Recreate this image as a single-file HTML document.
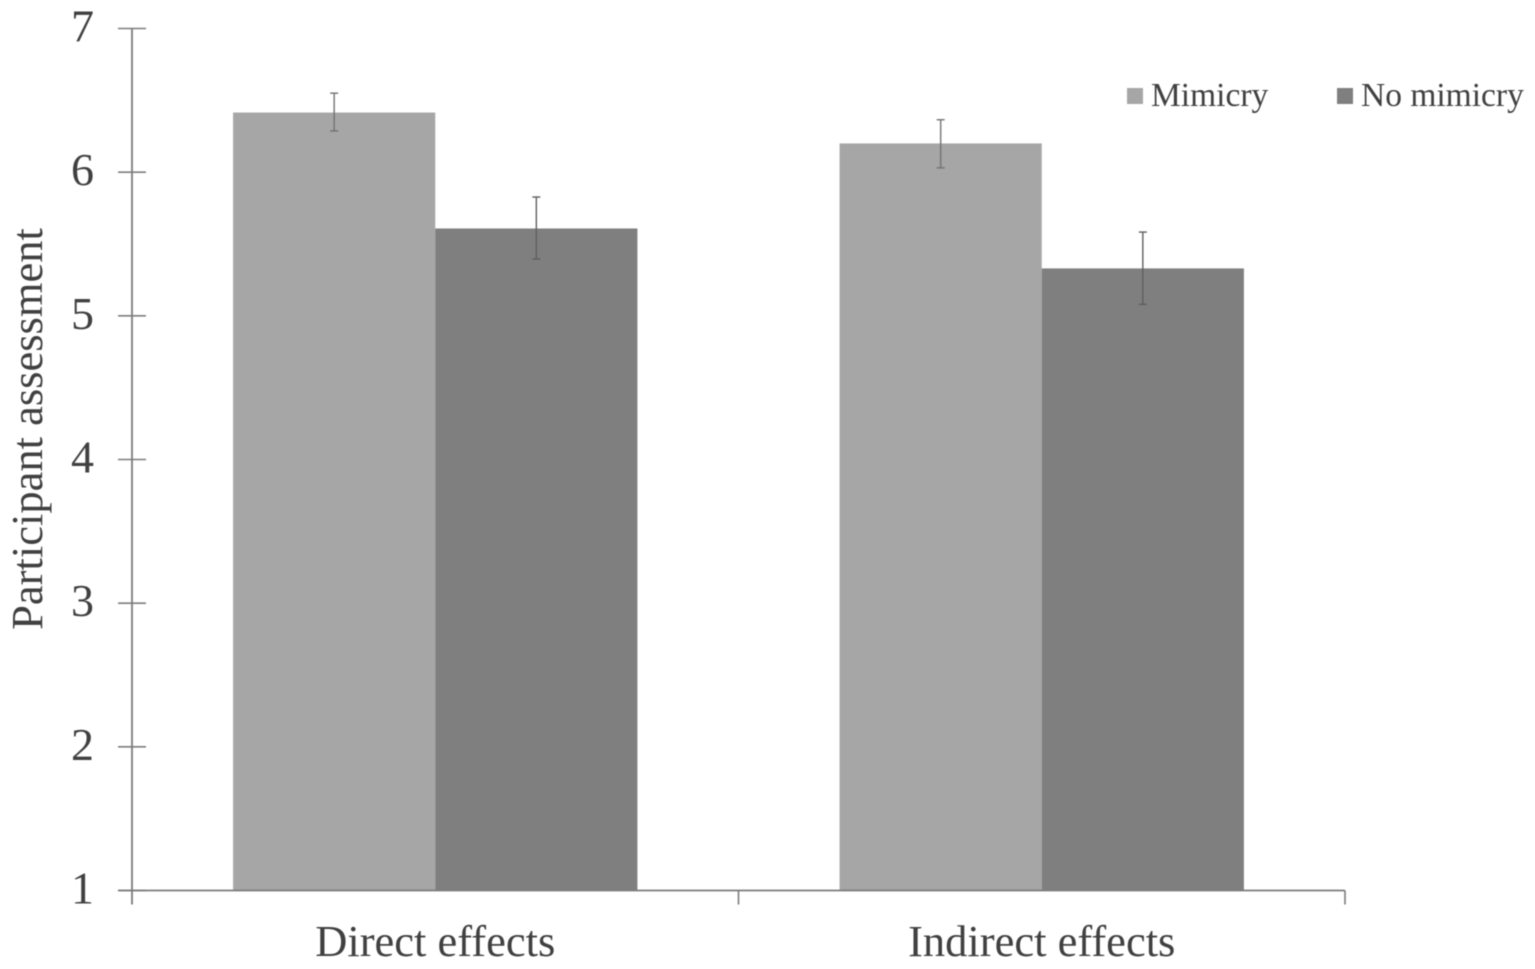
<!DOCTYPE html>
<html lang="en">
<head>
<meta charset="utf-8">
<title>Participant assessment chart</title>
<style>
html,body{margin:0;padding:0;background:#fff;width:1535px;height:969px;overflow:hidden}
svg{display:block;filter:blur(.45px)}
text{font-family:"Liberation Serif",serif;fill:#404040}
</style>
</head>
<body>
<svg id="chart" xmlns="http://www.w3.org/2000/svg" width="1535" height="969" viewBox="0 0 1535 969">
<g id="bars"></g>
<g id="errors"></g>
<g id="axes"></g>
<text transform="translate(42,429) rotate(-90)" text-anchor="middle" font-size="44.5">Participant assessment</text>
<g>
<g>
<rect x="1127" y="88" width="16" height="16" fill="#a6a6a6"/>
<text x="1151" y="106" font-size="33.5">Mimicry</text>
</g>
<g>
<rect x="1337" y="88" width="16" height="16" fill="#7f7f7f"/>
<text x="1361" y="106" font-size="33.5">No mimicry</text>
</g>
</g>
</svg>
<script>
const categories = ['Direct effects', 'Indirect effects'];
const seriesNames = ['Mimicry', 'No mimicry'];
const mimicryValues = [6.415, 6.2];
const noMimicryValues = [5.608, 5.33];
const mimicryErrorLow = [6.287, 6.03];
const mimicryErrorHigh = [6.55, 6.365];
const noMimicryErrorLow = [5.396, 5.08];
const noMimicryErrorHigh = [5.827, 5.583];
const yTicks = [1, 2, 3, 4, 5, 6, 7];

const NS = 'http://www.w3.org/2000/svg';
const yTop = 28.5, yBottom = 890.5, xLeft = 132, xRight = 1345;
const yMin = yTicks[0], yMax = yTicks[yTicks.length - 1];
const yScale = v => yBottom - (v - yMin) / (yMax - yMin) * (yBottom - yTop);
const groupWidth = (xRight - xLeft) / categories.length;
const barWidth = groupWidth / 3;
const barX = (c, s) => xLeft + groupWidth * c + barWidth / 2 + barWidth * s;

function make(parent, tag, attrs, content) {
  const el = document.createElementNS(NS, tag);
  for (const k of Object.keys(attrs)) el.setAttribute(k, attrs[k]);
  if (content !== undefined) el.textContent = content;
  parent.appendChild(el);
  return el;
}

const barsG = document.getElementById('bars');
const errG = document.getElementById('errors');
const axesG = document.getElementById('axes');
const seriesValues = [mimicryValues, noMimicryValues];
const seriesLow = [mimicryErrorLow, noMimicryErrorLow];
const seriesHigh = [mimicryErrorHigh, noMimicryErrorHigh];
const seriesFill = ['#a6a6a6', '#7f7f7f'];
const errStroke = ['#737373', '#5f5f5f'];

categories.forEach((cat, c) => {
  seriesNames.forEach((name, s) => {
    const x = barX(c, s);
    const top = yScale(seriesValues[s][c]);
    const bar = make(barsG, 'rect', {x: x, y: top, width: barWidth, height: yBottom - top, fill: seriesFill[s]});
    
    
    const cx = x + barWidth / 2;
    const hi = yScale(seriesHigh[s][c]);
    const lo = yScale(seriesLow[s][c]);
    const stem = make(errG, 'line', {x1: cx, x2: cx, y1: hi, y2: lo, stroke: errStroke[s], 'stroke-width': 1.4});
    
    
    const capTop = make(errG, 'line', {x1: cx - 4, x2: cx + 4, y1: hi, y2: hi, stroke: errStroke[s], 'stroke-width': 1.4});
    
    
    const capBottom = make(errG, 'line', {x1: cx - 4, x2: cx + 4, y1: lo, y2: lo, stroke: errStroke[s], 'stroke-width': 1.4});
    
    
  });
});

const axisColor = '#7c7c7c';
const yAxis = make(axesG, 'line', {x1: xLeft, x2: xLeft, y1: yTop, y2: yBottom + 14, stroke: axisColor, 'stroke-width': 1.8});


const xAxis = make(axesG, 'line', {x1: xLeft - 14, x2: xRight, y1: yBottom, y2: yBottom, stroke: axisColor, 'stroke-width': 1.8});



yTicks.forEach(t => {
  const y = yScale(t);
  const mark = make(axesG, 'line', {x1: xLeft - 14, x2: xLeft + 14, y1: y, y2: y, stroke: axisColor, 'stroke-width': 1.6});
  
  
  const label = make(axesG, 'text', {x: 94, y: y + 13, 'text-anchor': 'end', 'font-size': 46}, String(t));
  
  
});

for (let i = 1; i <= categories.length; i++) {
  const x = xLeft + groupWidth * i;
  const mark = make(axesG, 'line', {x1: x, x2: x, y1: yBottom, y2: yBottom + 14, stroke: axisColor, 'stroke-width': 1.6});
  
  
}

categories.forEach((cat, c) => {
  const label = make(axesG, 'text', {x: xLeft + groupWidth * (c + 0.5), y: 956, 'text-anchor': 'middle', 'font-size': 44.5}, cat);
  
  
});
</script>
</body>
</html>
